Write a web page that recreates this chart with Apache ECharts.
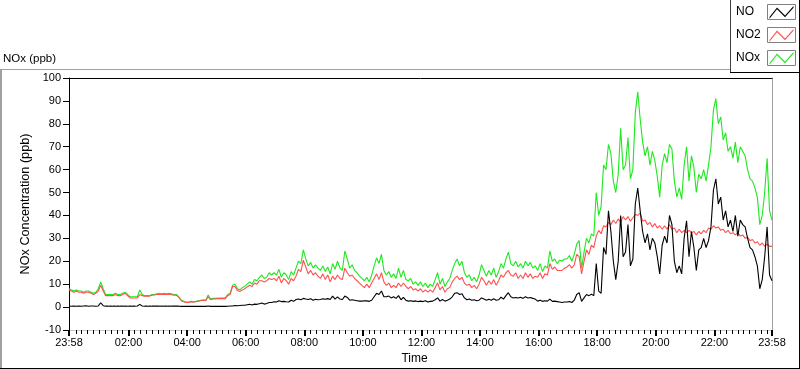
<!DOCTYPE html>
<html><head><meta charset="utf-8">
<script src="https://cdn.jsdelivr.net/npm/echarts@6/dist/echarts.min.js"></script>
<style>html,body{margin:0;padding:0;background:#fff}#c{width:800px;height:369px}</style>
</head><body><div id="c"></div>
<script>
// minutes after 23:58, one value every 5 minutes (289 points, 0..1440)
const STEP_MIN = 5;
const NO = [
0.5,0.4,0.5,0.4,0.5,0.4,0.5,0.6,0.4,0.5,0.5,0.4,
0.5,1.9,0.6,0.4,0.4,0.5,0.4,0.4,0.5,0.4,0.4,0.5,
0.4,0.5,0.4,0.4,0.5,1.2,0.5,0.4,0.4,0.5,0.4,0.4,
0.4,0.4,0.5,0.4,0.4,0.5,0.4,0.4,0.4,0.4,0.3,0.3,
0.3,0.3,0.3,0.3,0.3,0.3,0.3,0.3,0.3,0.5,0.3,0.3,
0.3,0.3,0.3,0.3,0.3,0.4,0.5,0.5,0.7,0.6,0.7,0.8,
0.8,1,1.2,0.9,1.3,1.2,1.5,1.8,1.3,1.6,2,2,
2.3,2.2,2.8,2.4,2.5,2.3,2.2,3,2.5,3.3,3.5,3.2,
3.8,3.5,3.3,3.6,3,3.4,3.2,3.3,3.6,3.4,3.7,3.3,
4.8,3.5,4.5,3.5,3.3,4.8,4.2,3,3.2,3,2.8,2.6,
2.6,2.8,2.7,2.5,3,4.5,6,5.5,7,4.5,4.5,4.8,
4,4.5,3.8,5,3.2,4.2,3,2.6,2.8,2.5,2.7,2.4,
2.6,2.4,2.8,2.2,2.5,2.6,3.2,4,2.6,3.3,2.6,3,
3.5,4.5,6,6.3,5.5,5.8,4,3.2,3.5,3,3.2,2.8,
3,4,3.5,3,3.4,3,3.6,3,3.2,4.3,3.5,5,
6.3,4.5,4,4.2,4,4.3,3.8,4.5,4,4.2,3.8,3.5,
2.6,3,2.5,2.8,2.6,3.5,2.5,2.6,2.4,2.2,2,2.2,
2.2,2.4,2,3,5.5,6.3,2.5,4,5.5,5,5.6,5,
19,7,6,26,23,42,33,20,12,20,40,22,
24,36,18,21,45,52,42,33,28,32,25,30,
28,22,14.5,27,31,28,40,36,20,15,18,14.5,
30,37.7,22,33,26,16,25,26,30,26,29,35,
51,56,45,48,38,42,35,38,33,40,31,38,
36,35,30,26,25,22,18,8,12,22,35,14,11.5
];
const NO2 = [
7.5,7,6.5,7,6.5,6.5,6,6.5,6.5,6,5.5,6,
7,9.5,7,5,5,5,5,5.5,5,5,5.5,6,
5,4,4,4,4,5.5,5,4.8,4.8,4.8,5.2,5.3,
5.5,5.5,5.5,5.6,5.5,5.6,5.4,5.2,5.2,4.2,2.8,2.3,
2,2,2.3,2.1,2.3,2.6,2.8,3,2.8,4.5,3.2,3.5,
3.5,3.7,3.7,3.7,3.7,5,5.5,9,9,7.2,6.8,7.5,
8,8.8,9.5,9,10.5,10,11.5,11.5,11,11.5,12.5,12,
12.5,11.5,13.5,10.5,12.5,11.5,10,12.5,11.5,13.5,16.5,15.5,
20.5,17.5,14.5,16,14,15,13.5,12.5,14.5,12,14,11,
13.5,12,14,12.5,12,17,15,13.5,14,12.5,11.5,10.5,
9.5,8.5,10,8.5,10.5,12.5,14.5,12,15,11,9.5,10.5,
8.5,9.5,8.5,10.5,9,10.5,9,8,9,7.5,8,7,
8,6.5,7.5,6.5,7.5,6.5,8.5,10.5,7.5,9,6.5,8,
8.5,11,12.5,13.5,12,13,10.5,9.5,10,8.5,9.5,8,
10,13,11.5,9.5,11.5,10,12,9.5,11.5,14,13,15,
16,14,13.5,15,12.5,14,12.5,15,13,14.5,12.5,13.5,
13,15,12.5,14.5,14,19,16.5,17.5,16,16,16,17,
17.5,18.5,17,18.5,23,22,14.5,20,25,23,27,26,
31,33.5,32,35.5,35,37,36,38,36.5,38.5,37,39.5,
38,39.5,37.5,39,40.5,40,41,37.5,38,36,37,35,
36.5,34.5,35.5,34,35.5,34,36,34,34.5,32.5,34,32.5,
33.5,32.5,33.5,32.5,33,31.5,33,32,33.5,32.5,34.5,34,
35.5,34.5,35,33.5,34,32.5,33.5,32,32.5,31.5,32.5,31,
31.5,30,30.5,29,29.5,28,28.5,27,28,26.5,27.5,26.5,26.5
];
const NOx = [
8,7.5,7,7.5,7,7,6.5,7,7,6.5,6,6.5,
8,11,8,5.5,5.5,5.5,5.5,6,5.5,5.5,6,6.5,
5.5,4.5,4.5,4.5,4.5,7.5,5.5,5,5,5,5.5,5.5,
5.8,6,5.8,6,5.8,6,5.8,5.5,5.5,4.5,3,2.5,
2.2,2.2,2.5,2.3,2.5,2.8,3,3.2,3,5.3,3.5,3.8,
3.8,4,4,4,4,5.5,6,9.5,10,8,7.5,8.5,
9,10,11,10,12,11.5,13,14,12.5,13,15,14,
15,14,16.5,13,15,14,12,15.5,14,17,20,19,
25,21,18,19.5,17,18.5,17,16,18,15.5,17.5,14.5,
19,16.5,20,17,16,24.5,21,17,18.5,16,15,13.5,
12.5,11.5,13,11,14,18,21.5,19,23,16,14,15.5,
13,14.5,12.5,17,13,16,12,11.5,12.5,10,11,9.5,
11,9,10.5,8.5,10,9,12,15,10,12.5,9,11,
12.5,16,19,21,18,20,15,13,14,11.5,13,11,
14,18.5,16,13.5,16,14,17,13,15.5,19,17,21,
24,19,18,20,17.5,19,17,20,18,19.5,17,18,
16,19,15.5,18,17,24.5,20,21,19,20.5,20,21,
21,22.5,20,23,27.5,29,17,24,30,28,32,31,
50,40,44,62,60,71,67,55,50,58,78,60,
62,74,56,60,85,94,82,72,66,70,62,68,
64,57,48,62,67,63,71,69,55,48,52,47,
62,70,55,66,61,50,58,56,60,55,62,70,
86,91,80,83,73,76,68,70,65,72,63,70,
68,66,60,56,55,52,48,36,40,50,65,42,38
];
const tickValues = [0,122,242,362,482,602,722,842,962,1082,1202,1322,1440];
const tickLabels = ['23:58','02:00','04:00','06:00','08:00','10:00','12:00','14:00','16:00','18:00','20:00','22:00','23:58'];
const minorTickValues = [];
for (let m = 14; m < 1440; m += 12) { if ((m - 2) % 120 !== 0) minorTickValues.push(m); }

const FF = '"Liberation Sans", Arial, sans-serif';
const toPairs = arr => arr.map((v, i) => [i * STEP_MIN, v]);
const ZIG = 'path://M0,0L0.01,0L0,0.01Z M28,16L27.99,16L28,15.99Z M2.5,13L10,3.5L18,11.5L26.5,2L26.5,3.8L18,13.3L10,5.3L2.5,14.8Z';

const chart = echarts.init(document.getElementById('c'), null, {renderer: 'canvas'});
chart.setOption({
  animation: false,
  backgroundColor: '#fff',
  title: {text: 'NOx (ppb)', left: 3, top: 53, padding: 0,
    textStyle: {fontSize: 11.5, fontWeight: 'normal', color: '#000', fontFamily: FF}},
  legend: {
    data: ['NO', 'NO2', 'NOx'], orient: 'vertical', right: 5, top: 4,
    itemWidth: 28, itemHeight: 16, itemGap: 7, align: 'right', padding: 0,
    selectedMode: false, icon: ZIG, itemStyle: {borderWidth: 0},
    formatter: '{a|{name}}',
    textStyle: {fontSize: 12, color: '#000', fontFamily: FF,
      rich: {a: {width: 26, align: 'left', fontSize: 12, fontFamily: FF, color: '#000'}}}
  },
  grid: {left: 69, right: 28, top: 78, bottom: 39, containLabel: false, outerBoundsMode: 'none'},
  xAxis: [
    {type: 'value', min: 0, max: 1440, position: 'bottom',
     axisLine: {show: true, onZero: false, lineStyle: {color: '#c8c8c8', width: 1}},
     axisTick: {show: true, customValues: tickValues, length: 6, lineStyle: {color: '#000', width: 2}},
     axisLabel: {show: true, customValues: tickValues, color: '#000', fontSize: 11, margin: 7, fontFamily: FF,
       formatter: v => tickLabels[tickValues.indexOf(v)]},
     splitLine: {show: false},
     name: 'Time', nameLocation: 'middle', nameGap: 21,
     nameTextStyle: {fontSize: 12, color: '#000', fontFamily: FF, padding: [0, 12, 0, 0]}},
    {type: 'value', min: 0, max: 1440, position: 'bottom',
     axisLine: {show: false, onZero: false},
     axisTick: {show: true, customValues: minorTickValues, length: 4, lineStyle: {color: '#000', width: 1}},
     axisLabel: {show: false}, splitLine: {show: false}},
    {type: 'value', min: 0, max: 1440, position: 'top',
     axisLine: {show: true, onZero: false, lineStyle: {color: '#000', width: 1}},
     axisTick: {show: false}, axisLabel: {show: false}, splitLine: {show: false}}
  ],
  yAxis: [
    {type: 'value', min: -10, max: 100, interval: 10, position: 'left',
     axisLine: {show: true, onZero: false, lineStyle: {color: '#000', width: 1}},
     axisTick: {show: true, length: 6, lineStyle: {color: '#000'}},
     axisLabel: {color: '#000', fontSize: 11, margin: 8, fontFamily: FF},
     splitLine: {show: false},
     name: 'NOx Concentration (ppb)', nameLocation: 'middle', nameRotate: 90, nameGap: 31,
     nameTextStyle: {fontSize: 12.7, color: '#000', fontFamily: FF}},
    {type: 'value', min: -10, max: 100, position: 'right',
     axisLine: {show: true, onZero: false, lineStyle: {color: '#a0a0a0', width: 1}},
     axisTick: {show: false}, axisLabel: {show: false}, splitLine: {show: false}}
  ],
  series: [
    {name: 'NO', type: 'line', data: toPairs(NO), symbol: 'none', showSymbol: false, z: 4,
     lineStyle: {width: 1.1, color: '#000'}, itemStyle: {color: '#000'}},
    {name: 'NO2', type: 'line', data: toPairs(NO2), symbol: 'none', showSymbol: false, z: 3,
     lineStyle: {width: 1.1, color: '#ff5050'}, itemStyle: {color: '#ff5050'}},
    {name: 'NOx', type: 'line', data: toPairs(NOx), symbol: 'none', showSymbol: false, z: 2,
     lineStyle: {width: 1.1, color: '#1ee81e'}, itemStyle: {color: '#1ee81e'}}
  ],
  graphic: [
    {type: 'line', silent: true, shape: {x1: 0, y1: 69.5, x2: 730, y2: 69.5}, style: {stroke: '#a0a0a0', lineWidth: 1}},
    {type: 'line', silent: true, shape: {x1: 1, y1: 69, x2: 1, y2: 368}, style: {stroke: '#a0a0a0', lineWidth: 2}},
    {type: 'line', silent: true, shape: {x1: 0, y1: 368.5, x2: 800, y2: 368.5}, style: {stroke: '#000', lineWidth: 1}},
    {type: 'line', silent: true, shape: {x1: 799.5, y1: 0, x2: 799.5, y2: 369}, style: {stroke: '#000', lineWidth: 1}},
    {type: 'line', silent: true, shape: {x1: 730.5, y1: 0, x2: 730.5, y2: 72}, style: {stroke: '#404040', lineWidth: 1}},
    {type: 'line', silent: true, shape: {x1: 730, y1: 72.5, x2: 800, y2: 72.5}, style: {stroke: '#000', lineWidth: 1}},
    {type: 'rect', silent: true, z: 10, shape: {x: 767.5, y: 4.5, width: 28, height: 15}, style: {fill: 'none', stroke: '#808080', lineWidth: 1}},
    {type: 'rect', silent: true, z: 10, shape: {x: 767.5, y: 27.5, width: 28, height: 15}, style: {fill: 'none', stroke: '#808080', lineWidth: 1}},
    {type: 'rect', silent: true, z: 10, shape: {x: 767.5, y: 50.5, width: 28, height: 15}, style: {fill: 'none', stroke: '#808080', lineWidth: 1}}
  ]
});
</script></body></html>
